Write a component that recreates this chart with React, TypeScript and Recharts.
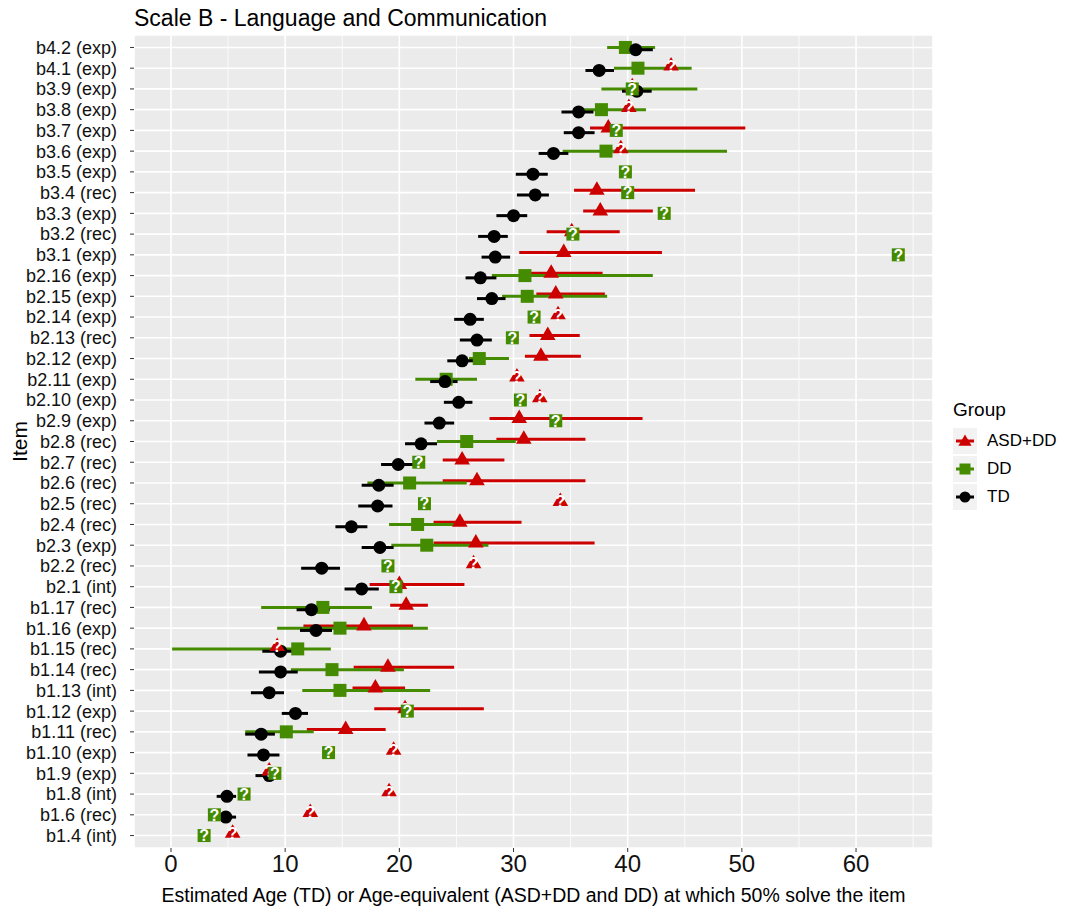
import { CartesianGrid, ErrorBar, Scatter, ScatterChart, XAxis, YAxis } from "recharts";

const items = [
  "b4.2 (exp)", "b4.1 (exp)", "b3.9 (exp)", "b3.8 (exp)", "b3.7 (exp)", "b3.6 (exp)",
  "b3.5 (exp)", "b3.4 (rec)", "b3.3 (exp)", "b3.2 (rec)", "b3.1 (exp)", "b2.16 (exp)",
  "b2.15 (exp)", "b2.14 (exp)", "b2.13 (rec)", "b2.12 (exp)", "b2.11 (exp)", "b2.10 (exp)",
  "b2.9 (exp)", "b2.8 (rec)", "b2.7 (rec)", "b2.6 (rec)", "b2.5 (rec)", "b2.4 (rec)",
  "b2.3 (exp)", "b2.2 (rec)", "b2.1 (int)", "b1.17 (rec)", "b1.16 (exp)", "b1.15 (rec)",
  "b1.14 (rec)", "b1.13 (int)", "b1.12 (exp)", "b1.11 (rec)", "b1.10 (exp)", "b1.9 (exp)",
  "b1.8 (int)", "b1.6 (rec)", "b1.4 (int)",
];

// ASD+DD
const asdEst = [
  null, 43.8, 40.4, 40.1, 38.3, 39.4, null, 37.3, 37.6, 35.1, 34.4, 33.3, 33.7, 33.9, 33.0, 32.4,
  30.3, 32.3, 30.5, 30.9, 25.5, 26.8, 34.1, 25.3, 26.7, 26.5, 20.0, 20.6, 16.9, 9.3, 19.0, 17.9,
  20.5, 15.3, 19.5, 8.6, 19.1, 12.2, 5.4,
];
const asdLow = [
  null, null, null, null, 36.7, null, null, 35.3, 36.1, 32.9, 30.5, 31.2, 32.0, null, 31.4, 31.0,
  null, null, 27.9, 28.5, 23.8, 23.8, null, 23.0, 23.0, null, 17.4, 19.2, 11.6, null, 16.0, 15.9,
  17.8, 11.9, null, null, null, null, null,
];
const asdHigh = [
  null, null, null, null, 50.3, null, null, 45.9, 42.2, 39.3, 43.0, 37.8, 38.0, null, 35.8, 35.9,
  null, null, 41.3, 36.3, 29.2, 36.3, null, 30.7, 37.1, null, 25.7, 22.5, 21.2, null, 24.8, 20.5,
  27.4, 18.8, null, null, null, null, null,
];
const asdUnsure = [
  0, 1, 1, 1, 0, 1, 0, 0, 0, 1, 0, 0, 0, 1, 0, 0, 1, 1, 0, 0, 0, 0, 1, 0, 0, 1, 0, 0, 0, 1,
  0, 0, 1, 0, 1, 1, 1, 1, 1,
];

// DD
const ddEst = [
  39.8, 40.9, 40.4, 37.7, 39.0, 38.1, 39.8, 40.0, 43.2, 35.2, 63.7, 31.0, 31.2, 31.8, 29.9, 27.0,
  24.1, 30.6, 33.7, 25.9, 21.7, 20.9, 22.2, 21.6, 22.4, 19.0, 19.7, 13.3, 14.8, 11.1, 14.1, 14.8,
  20.7, 10.1, 13.8, 9.1, 6.4, 3.8, 2.9,
];
const ddLow = [
  38.2, 38.8, 37.7, 35.2, null, 34.3, null, null, null, null, null, 28.1, 29.0, null, null, 26.1,
  21.4, null, null, 23.3, null, 17.2, null, 19.1, 19.3, null, null, 7.9, 9.3, 0.1, 10.5, 11.5,
  null, 6.5, null, null, null, null, null,
];
const ddHigh = [
  42.4, 45.6, 46.1, 41.6, null, 48.7, null, null, null, null, null, 42.2, 38.2, null, null, 29.6,
  26.8, null, null, 30.2, null, 25.9, null, 25.3, 27.8, null, null, 17.6, 22.5, 14.0, 20.4, 22.7,
  null, 12.5, null, null, null, null, null,
];
const ddUnsure = [
  0, 0, 1, 0, 1, 0, 1, 1, 1, 1, 1, 0, 0, 1, 1, 0, 0, 1, 1, 0, 1, 0, 1, 0, 0, 1, 1, 0, 0, 0,
  0, 0, 1, 0, 1, 1, 1, 1, 1,
];

// TD
const tdEst = [
  40.7, 37.5, 40.8, 35.7, 35.7, 33.5, 31.7, 31.9, 30.0, 28.3, 28.4, 27.1, 28.1, 26.2, 26.8, 25.5,
  24.0, 25.2, 23.5, 21.9, 19.9, 18.2, 18.1, 15.8, 18.3, 13.2, 16.7, 12.3, 12.7, 9.6, 9.6, 8.6,
  10.9, 7.9, 8.1, 8.6, 4.9, 4.8, null,
];
const tdLow = [
  39.5, 36.3, 39.5, 34.2, 34.4, 32.2, 30.2, 30.3, 28.5, 26.9, 27.2, 25.8, 26.8, 24.8, 25.3, 24.2,
  22.7, 23.9, 22.2, 20.5, 18.4, 16.7, 16.4, 14.4, 16.7, 11.4, 15.2, 11.0, 11.3, 8.0, 7.7, 7.0,
  9.7, 6.5, 6.7, 7.4, 4.0, 3.3, null,
];
const tdHigh = [
  42.2, 38.8, 42.1, 37.0, 37.1, 34.8, 33.0, 33.1, 31.2, 29.5, 29.7, 28.5, 29.3, 27.4, 28.1, 26.7,
  25.1, 26.4, 24.8, 23.3, 21.2, 19.5, 19.4, 17.2, 19.5, 14.8, 18.2, 13.9, 14.1, 11.0, 11.1, 9.9,
  12.0, 9.1, 9.5, 9.6, 5.7, 5.7, null,
];
const tdUnsure = items.map(() => 0);

const xTicks = [0, 10, 20, 30, 40, 50, 60];
const xMinor = [5, 15, 25, 35, 45, 55, 65];

const FONT = '"Liberation Sans", Arial, sans-serif';

type Pt = { x: number; y: number; err?: [number, number]; unsure: boolean };
type Kind = "triangle" | "square" | "circle";

function buildSeries(
  est: (number | null)[],
  low: (number | null)[],
  high: (number | null)[],
  unsure: number[],
  dodge: number,
): Pt[] {
  const out: Pt[] = [];
  est.forEach((v, i) => {
    if (v == null) return;
    const lo = low[i];
    const hi = high[i];
    out.push({
      x: v,
      y: i + 1 + dodge,
      err: lo != null && hi != null ? [v - lo, hi - v] : undefined,
      unsure: unsure[i] === 1,
    });
  });
  return out;
}

const groups: { name: string; color: string; kind: Kind; data: Pt[] }[] = [
  { name: "ASD+DD", color: "#CD0000", kind: "triangle", data: buildSeries(asdEst, asdLow, asdHigh, asdUnsure, -0.11) },
  { name: "DD", color: "#458B00", kind: "square", data: buildSeries(ddEst, ddLow, ddHigh, ddUnsure, 0) },
  { name: "TD", color: "#000000", kind: "circle", data: buildSeries(tdEst, tdLow, tdHigh, tdUnsure, 0.11) },
];

function Marker({ cx, cy, kind, color, size }: { cx: number; cy: number; kind: Kind; color: string; size: number }) {
  if (kind === "circle") return <circle cx={cx} cy={cy} r={size / 2} fill={color} />;
  if (kind === "square")
    return <rect x={cx - size / 2} y={cy - size / 2} width={size} height={size} fill={color} />;
  const s = size * 1.2;
  const h = s * 0.866;
  return (
    <polygon
      points={`${cx},${cy - (2 * h) / 3} ${cx - s / 2},${cy + h / 3} ${cx + s / 2},${cy + h / 3}`}
      fill={color}
    />
  );
}

const pointShape = (kind: Kind, color: string, mark: boolean) => (props: any) => {
  const { cx, cy } = props;
  if (cx == null || cy == null) return <g />;
  return (
    <g>
      <Marker cx={cx} cy={cy} kind={kind} color={color} size={13} />
      {mark && (
        <text
          x={cx}
          y={cy}
          dy="0.36em"
          textAnchor="middle"
          fill="#FFFFFF"
          fontSize={16}
          fontWeight="bold"
          fontFamily={FONT}
        >
          ?
        </text>
      )}
    </g>
  );
};

// ggplot-style key: grey box, short interval line and the group's marker
function GroupLegend() {
  return (
    <div style={{ position: "absolute", left: 953, top: 399, fontFamily: FONT, color: "#000" }}>
      <div style={{ fontSize: 19, lineHeight: "22px", marginBottom: 6 }}>Group</div>
      {groups.map((g) => (
        <div key={g.name} style={{ display: "flex", alignItems: "center", height: 28 }}>
          <svg width={24} height={26}>
            <rect x={0} y={0} width={24} height={26} fill="#F2F2F2" />
            <line x1={3} x2={21} y1={13} y2={13} stroke={g.color} strokeWidth={3} />
            <Marker cx={12} cy={g.kind === "triangle" ? 14 : 13} kind={g.kind} color={g.color} size={11} />
          </svg>
          <span style={{ marginLeft: 10, fontSize: 17 }}>{g.name}</span>
        </div>
      ))}
    </div>
  );
}

export default function App() {
  return (
    <div
      style={{
        position: "absolute",
        left: 0,
        top: 0,
        width: 1075,
        height: 906,
        background: "#FFFFFF",
        fontFamily: FONT,
      }}
    >
      <div
        style={{
          position: "absolute",
          left: 134,
          top: 7,
          fontSize: 23,
          lineHeight: 1,
          color: "#000",
          whiteSpace: "nowrap",
        }}
      >
        Scale B - Language and Communication
      </div>
      <ScatterChart width={1075} height={906} margin={{ top: 35, right: 142, bottom: 0, left: 0 }}>
        <CartesianGrid fill="#EBEBEB" stroke="#FFFFFF" strokeWidth={0.8} horizontal={false} verticalValues={xMinor} />
        <CartesianGrid stroke="#FFFFFF" strokeWidth={1.6} />
        <XAxis
          type="number"
          dataKey="x"
          domain={[-3.24, 66.74]}
          ticks={xTicks}
          allowDataOverflow
          height={58}
          axisLine={false}
          tickLine={{ stroke: "#333333" }}
          tickSize={4}
          tickMargin={3}
          tick={{ fontSize: 24, fill: "#111111" }}
          label={{
            value: "Estimated Age (TD) or Age-equivalent (ASD+DD and DD) at which 50% solve the item",
            position: "insideBottom",
            offset: 4,
            style: { fontSize: 19.5, fill: "#000000" },
          }}
        />
        <YAxis
          type="number"
          dataKey="y"
          domain={[0.4, items.length + 0.6]}
          ticks={items.map((_, i) => i + 1)}
          tickFormatter={(v: number) => items[v - 1] ?? ""}
          interval={0}
          reversed
          allowDataOverflow
          width={134}
          axisLine={false}
          tickLine={{ stroke: "#333333" }}
          tickSize={4}
          tickMargin={13}
          tick={{ fontSize: 18, fill: "#111111" }}
          label={{
            value: "Item",
            angle: -90,
            position: "insideLeft",
            offset: 20,
            style: { textAnchor: "middle", fontSize: 21, fill: "#000000" },
          }}
        />
        {/* interval lines first, then points, then the flagged estimates on top */}
        {groups.map((g) => (
          <Scatter
            key={`${g.name}-ci`}
            name={`${g.name}-ci`}
            data={g.data.filter((p) => p.err)}
            shape={() => <g />}
            legendType="none"
            isAnimationActive={false}
          >
            <ErrorBar dataKey="err" direction="x" width={0} strokeWidth={3} stroke={g.color} isAnimationActive={false} />
          </Scatter>
        ))}
        {groups.map((g) => (
          <Scatter
            key={`${g.name}-pt`}
            name={g.name}
            data={g.data.filter((p) => !p.unsure)}
            shape={pointShape(g.kind, g.color, false)}
            isAnimationActive={false}
          />
        ))}
        {groups.map((g) => (
          <Scatter
            key={`${g.name}-q`}
            name={`${g.name}-q`}
            data={g.data.filter((p) => p.unsure)}
            shape={pointShape(g.kind, g.color, true)}
            legendType="none"
            isAnimationActive={false}
          />
        ))}
      </ScatterChart>
      <GroupLegend />
    </div>
  );
}
